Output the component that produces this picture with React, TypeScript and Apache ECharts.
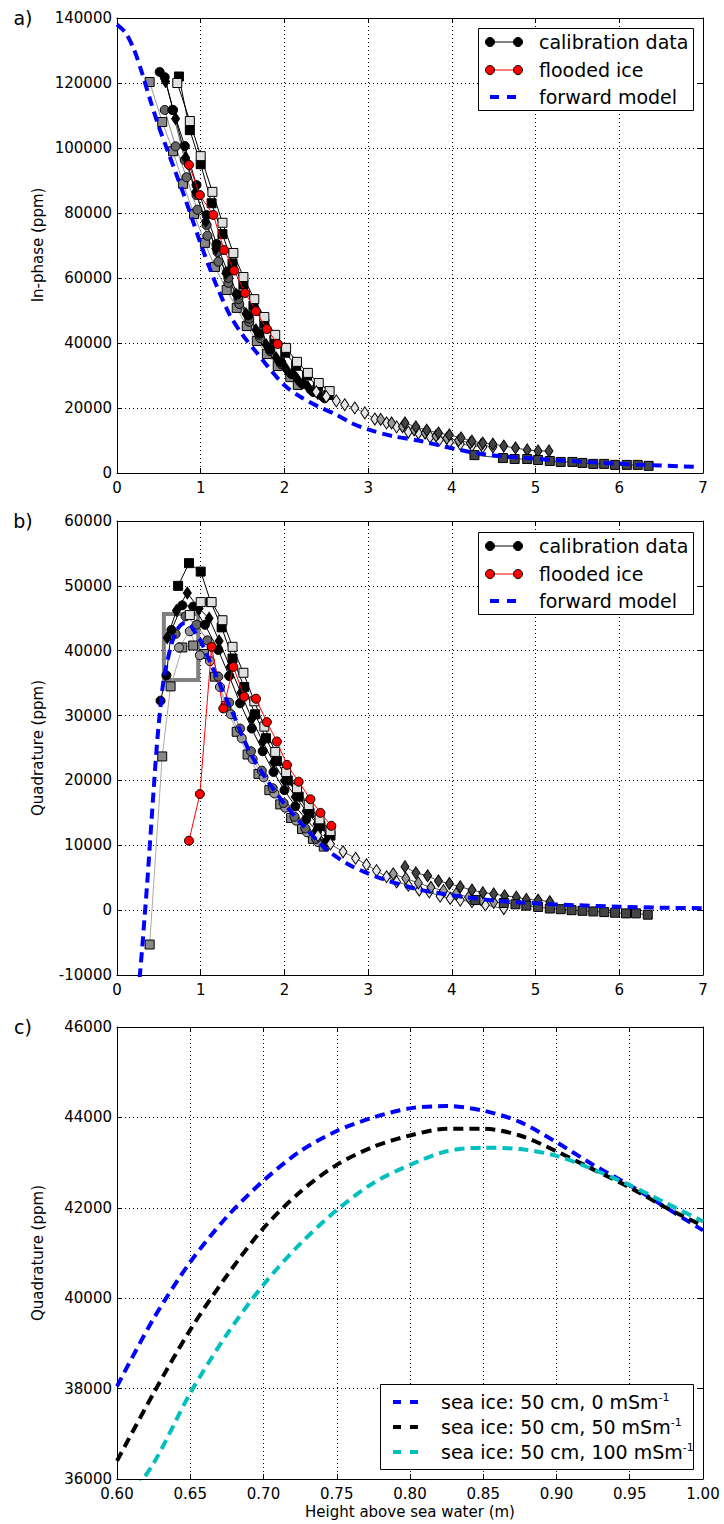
import { useEffect, useRef } from "react";
import * as echarts from "echarts";

type P = [number, number][];

// ---------- Panel a: in-phase ----------
const forwardA: P = [[0,138000],[0.1,135500],[0.2,130500],[0.3,123000],[0.4,114500],[0.5,106500],[0.6,99500],[0.7,92500],[0.8,85500],[0.9,78000],[1.0,70500],[1.1,63500],[1.2,57000],[1.35,48500],[1.5,42500],[1.67,37000],[1.8,32800],[2.0,27000],[2.2,23300],[2.4,20500],[2.6,18200],[2.8,15400],[3.0,13400],[3.3,11300],[3.6,10000],[4.0,7600],[4.4,5700],[5.0,4400],[5.6,3400],[6.2,2600],[6.9,1900]];
const lightSquareA: P = [[0.72,120000],[0.87,108300],[1.00,97500],[1.14,86500],[1.26,77000],[1.39,67700],[1.51,60300],[1.64,53500],[1.76,48000],[1.89,42500],[2.02,38500],[2.15,34200],[2.28,30800],[2.41,27700],[2.54,25200]];
const blackSquareA: P = [[0.74,122000],[0.87,105500],[1.00,95000],[1.13,83000],[1.26,73500],[1.38,64500],[1.51,58000],[1.63,51500],[1.76,46000],[1.88,41000],[2.01,37000],[2.14,33000],[2.27,30000],[2.40,26500],[2.53,24000]];
const blackCircleA: P = [[0.51,123400],[0.57,121800],[0.67,111700],[0.81,100600],[0.95,88600],[1.07,79400],[1.19,70500],[1.32,62000],[1.44,55000],[1.57,48500],[1.70,43000],[1.83,38000],[1.96,34000],[2.09,30500],[2.22,27500],[2.35,25000],[2.48,23000]];
const blackDiamondA: P = [[0.58,120500],[0.70,109000],[0.82,97000],[0.94,86500],[1.06,77500],[1.18,69000],[1.30,61500],[1.42,55000],[1.54,49000],[1.66,44000],[1.78,39500],[1.90,35500],[2.02,32000],[2.15,29000],[2.28,26500],[2.40,24500]];
const greySquareA: P = [[0.39,120300],[0.54,108000],[0.67,99000],[0.79,89000],[0.92,79700],[1.05,70800],[1.17,63400],[1.31,56300],[1.43,50800],[1.55,45200],[1.67,40600],[1.79,36600],[1.92,32900],[2.07,29500],[2.16,27100]];
const greyCircleA: P = [[0.57,111700],[0.70,100500],[0.83,91000],[0.96,81000],[1.08,73000],[1.21,65000],[1.33,58500],[1.46,52000],[1.58,46500],[1.71,41500],[1.83,37500],[1.96,33500],[2.08,30500],[2.21,27500],[2.34,25000],[2.46,23500]];
const greyCircle2A: P = [[0.66,111700],[0.81,96300],[0.95,85500],[1.07,76300],[1.20,68000],[1.33,60000],[1.45,53500],[1.58,47500],[1.70,42500],[1.83,38000],[1.96,34000],[2.09,30500],[2.22,27500],[2.35,25500],[2.47,23500]];
const lightDiamondA: P = [[2.38,25000],[2.50,23500],[2.62,22200],[2.72,21000],[2.84,20000],[2.96,18500],[3.08,16600],[3.22,15400],[3.34,14200],[3.48,12600],[3.60,12300],[3.74,11100],[3.85,10200],[3.97,9500],[4.10,8900],[4.24,8400],[4.37,8000]];
const greyDiamondA: P = [[3.15,16500],[3.28,15400],[3.41,14300],[3.55,13300],[3.68,12300],[3.81,11400],[3.94,10700],[4.08,10000],[4.22,9300],[4.35,8700],[4.49,8000]];
const darkDiamondA: P = [[3.44,15400],[3.57,14200],[3.70,13200],[3.84,12300],[3.97,11700],[4.11,10800],[4.24,9800],[4.37,9200],[4.49,8900],[4.62,8300],[4.76,7700],[4.90,7100],[5.03,6800],[5.16,6800]];
const darkSquareA: P = [[4.27,5500],[4.61,4600],[4.75,4300],[4.90,4300],[5.03,4000],[5.17,3700],[5.30,3400],[5.44,3400],[5.56,3100],[5.69,2800],[5.82,2800],[5.95,2500],[6.09,2500],[6.22,2500],[6.35,2200]];
const floodedA: P = [[0.86,94800],[0.99,85500],[1.15,79400],[1.28,68600],[1.40,62300],[1.53,55400],[1.66,49800],[1.79,44300],[1.92,39700]];

// ---------- Panel b: quadrature ----------
const forwardB: P = [[0.27,-10500],[0.30,-6000],[0.33,-1000],[0.36,4000],[0.40,11500],[0.44,19000],[0.48,26000],[0.52,31500],[0.56,35800],[0.60,38300],[0.65,41000],[0.70,42700],[0.75,43800],[0.80,44250],[0.85,44150],[0.90,43500],[0.95,42500],[1.00,41500],[1.10,38600],[1.20,35700],[1.30,32700],[1.40,29900],[1.50,26800],[1.60,24000],[1.80,19900],[2.00,16400],[2.20,13400],[2.50,9400],[2.80,6800],[3.20,4700],[3.60,3200],[4.00,2300],[4.50,1500],[5.00,1050],[5.50,750],[6.00,520],[6.50,380],[7.00,300]];
const blackSquareB: P = [[0.73,50000],[0.86,53500],[1.00,52200],[1.12,47500],[1.25,43600],[1.38,38800],[1.52,34400],[1.65,30200],[1.78,26500],[1.91,23000],[2.04,20000],[2.17,17500],[2.30,15000],[2.43,13000],[2.55,11500]];
const lightSquareB: P = [[0.87,45500],[1.00,47500],[1.13,47500],[1.26,44700],[1.38,40600],[1.51,36600],[1.64,32200],[1.76,28300],[1.89,24400],[2.02,21300],[2.15,18800],[2.29,16200],[2.42,14000],[2.55,12200]];
const blackCircleB: P = [[0.52,32300],[0.59,36200],[0.65,43200],[0.78,47000],[0.91,46800],[1.05,44000],[1.21,40100],[1.34,36100],[1.47,31900],[1.61,28000],[1.74,24500],[1.87,21300],[2.00,18500],[2.13,16000],[2.26,14000],[2.39,12200],[2.50,10500]];
const blackDiamondB: P = [[0.60,42000],[0.71,46200],[0.84,48900],[0.98,46500],[1.10,45000],[1.22,41500],[1.35,37500],[1.48,33500],[1.61,29500],[1.74,26000],[1.87,22800],[2.00,20000],[2.13,17500],[2.26,15300],[2.39,13300],[2.52,11500]];
const greyCircleB: P = [[0.70,42600],[0.82,45300],[0.95,44000],[1.08,41600],[1.21,36000],[1.34,32000],[1.47,28000],[1.60,24500],[1.73,21500],[1.86,18800],[1.99,16500],[2.12,14400],[2.25,12600],[2.38,11000],[2.50,9900]];
const greyCircle2B: P = [[0.74,40500],[0.87,43000],[0.99,39300],[1.11,38400],[1.23,34400],[1.36,30200],[1.49,26500],[1.62,23300],[1.75,20500],[1.88,18000],[2.01,15800],[2.14,13800],[2.27,12000],[2.40,10500]];
const greySquareB: P = [[0.39,-5300],[0.54,23700],[0.64,34500],[0.78,40500],[0.91,40800],[1.04,39500],[1.17,36000],[1.30,31500],[1.43,27500],[1.56,24000],[1.69,21000],[1.82,18500],[1.95,16300],[2.08,14200],[2.21,12500],[2.34,11000],[2.47,9800]];
const lightDiamondB: P = [[2.40,11500],[2.55,10200],[2.70,9000],[2.85,8000],[2.98,7000],[3.10,6100],[3.22,5150],[3.34,4350],[3.48,3850],[3.61,3100],[3.73,2800],[3.86,2150],[3.98,1800],[4.10,1550],[4.24,1300],[4.40,800],[4.62,250]];
const greyDiamondB: P = [[3.30,5600],[3.45,4900],[3.60,4200],[3.75,3500],[3.90,3000],[4.05,2500],[4.20,2000],[4.35,1600],[4.50,1200]];
const darkDiamondB: P = [[3.44,6700],[3.57,5750],[3.71,5300],[3.84,4500],[3.97,4100],[4.10,3600],[4.24,3100],[4.37,2700],[4.50,2500],[4.63,2200],[4.77,2000],[4.89,1650],[5.03,1550],[5.17,1300]];
const darkSquareB: P = [[4.28,1550],[4.62,1100],[4.76,900],[4.89,700],[5.03,500],[5.17,250],[5.30,150],[5.43,0],[5.56,-100],[5.69,-200],[5.82,-300],[5.95,-400],[6.08,-500],[6.20,-500],[6.34,-700]];
const floodedB: P = [[0.86,10700],[0.99,17900],[1.13,40600],[1.27,31100],[1.39,37500],[1.52,32900],[1.66,32600],[1.79,29000],[1.91,26000],[2.03,22400],[2.17,19800],[2.31,17100],[2.43,15000],[2.56,13000]];
const zoomBox: [[number, number], [number, number]] = [[0.56, 45650], [0.97, 35500]];

// ---------- Panel c: zoom of forward models ----------
const heightsC = [0.600,0.625,0.650,0.675,0.700,0.725,0.750,0.775,0.800,0.825,0.850,0.875,0.900,0.925,0.950,0.975,1.000];
const ice0 = [38050,39550,40800,41800,42600,43250,43700,44000,44200,44250,44150,43900,43450,42950,42500,42000,41500];
const ice50 = [36400,37900,39300,40500,41550,42350,42950,43350,43600,43750,43750,43600,43250,42850,42450,42000,41600];
const ice100 = [35200,36350,37900,39200,40300,41200,41950,42550,42950,43250,43330,43300,43150,42850,42500,42100,41700];

// ---------- ticks ----------
const xTicksAB = [0, 7, 1];
const yTicksA = [0, 140000, 20000];
const yTicksB = [-10000, 60000, 10000];
const xTicksC = [0.6, 1.0, 0.05];
const yTicksC = [36000, 46000, 2000];

const FONT = "DejaVu Sans";
const BLUE = "#0000ff";
const CYAN = "#00bfbf";

function cal(data: P, gi: number, symbol: string, fill: string, line: string, size: any = 9, extra: any = {}) {
  return {
    type: "line", xAxisIndex: gi, yAxisIndex: gi, data,
    symbol, symbolSize: size, showSymbol: true, showAllSymbol: true,
    lineStyle: { color: line, width: 1 },
    itemStyle: { color: fill, borderColor: "#000", borderWidth: 1 },
    emphasis: { disabled: true }, silent: true, z: 2, ...extra,
  };
}
function dashLine(data: any[], gi: number, color: string, z = 5) {
  return {
    type: "line", xAxisIndex: gi, yAxisIndex: gi, data, showSymbol: false, symbol: "none",
    smooth: 0.3,
    lineStyle: { color, width: 4, type: [10, 6] },
    emphasis: { disabled: true }, silent: true, z,
  };
}

const DIA = [8, 12];

export default function App() {
  const ref = useRef<HTMLDivElement>(null);
  useEffect(() => {
    if (!ref.current) return;
    const chart = echarts.init(ref.current, undefined, { renderer: "svg" });
    const grids = [
      { left: 117, top: 18, width: 586, height: 455 },
      { left: 117, top: 521, width: 586, height: 454 },
      { left: 117, top: 1027, width: 586, height: 452 },
    ];
    const xr = [xTicksAB, xTicksAB, xTicksC];
    const yr = [yTicksA, yTicksB, yTicksC];
    const xAxes: any[] = [];
    const yAxes: any[] = [];
    const axisLine = { show: true, onZero: false, lineStyle: { color: "#000", width: 1 } };
    const axisTick = { show: true, inside: true, length: 5, lineStyle: { color: "#000", width: 1 } };
    const split = { show: true, lineStyle: { color: "#000", width: 1, type: [1, 3] } };
    for (let gi = 0; gi < 3; gi++) {
      const [xmin, xmax, xint] = xr[gi];
      xAxes.push({
        type: "value", gridIndex: gi, position: "bottom", min: xmin, max: xmax, interval: xint,
        axisLine, axisTick, splitLine: split,
        axisLabel: {
          color: "#000", fontSize: 15, fontFamily: FONT, margin: 7, showMinLabel: true, showMaxLabel: true,
          formatter: (v: number) => (gi === 2 ? v.toFixed(2) : String(Math.round(v))),
        },
      });
      const [ymin, ymax, yint] = yr[gi];
      yAxes.push({
        type: "value", gridIndex: gi, position: "left", min: ymin, max: ymax, interval: yint,
        axisLine, axisTick, splitLine: split,
        axisLabel: {
          color: "#000", fontSize: 15, fontFamily: FONT, margin: 5, showMinLabel: true, showMaxLabel: true,
          formatter: (v: number) => String(Math.round(v)),
        },
      });
    }
    for (let gi = 0; gi < 3; gi++) {
      const [xmin, xmax, xint] = xr[gi];
      xAxes.push({
        type: "value", gridIndex: gi, position: "top", min: xmin, max: xmax, interval: xint,
        axisLine, axisTick, splitLine: { show: false }, axisLabel: { show: false },
      });
      const [ymin, ymax, yint] = yr[gi];
      yAxes.push({
        type: "value", gridIndex: gi, position: "right", min: ymin, max: ymax, interval: yint,
        axisLine, axisTick, splitLine: { show: false }, axisLabel: { show: false },
      });
    }

    const series: any[] = [
      // panel a
      cal(greySquareA, 0, "rect", "#888888", "#999999"),
      cal(greyCircleA, 0, "circle", "#666666", "#888888"),
      cal(greyCircle2A, 0, "circle", "#555555", "#666666"),
      cal(blackDiamondA, 0, "diamond", "#000000", "#000000", DIA),
      cal(blackCircleA, 0, "circle", "#000000", "#000000"),
      cal(blackSquareA, 0, "rect", "#000000", "#000000"),
      cal(lightSquareA, 0, "rect", "#e0e0e0", "#000000"),
      cal(lightDiamondA, 0, "diamond", "#e6e6e6", "#555555", DIA),
      cal(greyDiamondA, 0, "diamond", "#999999", "#555555", DIA),
      cal(darkDiamondA, 0, "diamond", "#444444", "#444444", DIA),
      cal(darkSquareA, 0, "rect", "#444444", "#444444"),
      cal(floodedA, 0, "circle", "#ff0000", "#ff0000", 9, { z: 3 }),
      dashLine(forwardA, 0, BLUE),
      // panel b
      cal(greySquareB, 1, "rect", "#888888", "#aaaaaa", 9, {
        markArea: {
          silent: true,
          itemStyle: { color: "rgba(0,0,0,0)", borderColor: "#808080", borderWidth: 4 },
          data: [[{ coord: zoomBox[0] }, { coord: zoomBox[1] }]],
        },
      }),
      cal(greyCircle2B, 1, "circle", "#999999", "#aaaaaa"),
      cal(greyCircleB, 1, "circle", "#666666", "#777777"),
      cal(blackDiamondB, 1, "diamond", "#000000", "#000000", DIA),
      cal(blackCircleB, 1, "circle", "#000000", "#000000"),
      cal(blackSquareB, 1, "rect", "#000000", "#000000"),
      cal(lightSquareB, 1, "rect", "#e0e0e0", "#000000"),
      cal(lightDiamondB, 1, "diamond", "#e6e6e6", "#555555", DIA),
      cal(greyDiamondB, 1, "diamond", "#999999", "#555555", DIA),
      cal(darkDiamondB, 1, "diamond", "#444444", "#444444", DIA),
      cal(darkSquareB, 1, "rect", "#444444", "#444444"),
      cal(floodedB, 1, "circle", "#ff0000", "#ff0000", 9, { z: 3 }),
      dashLine(forwardB, 1, BLUE),
      // panel c
      dashLine(heightsC.map((h, i) => [h, ice0[i]]), 2, BLUE),
      dashLine(heightsC.map((h, i) => [h, ice50[i]]), 2, "#000000"),
      dashLine(heightsC.map((h, i) => [h, ice100[i]]), 2, CYAN),
    ];

    const legendAB = (dy: number) => {
      const rows = [42, 70, 97].map((y) => y + dy);
      return [
        { type: "rect", shape: { x: 478.5, y: 28.5 + dy, width: 215, height: 82 }, style: { fill: "#fff", stroke: "#000", lineWidth: 1 }, z: 100 },
        { type: "line", shape: { x1: 490, y1: rows[0], x2: 518, y2: rows[0] }, style: { stroke: "#000", lineWidth: 1 }, z: 101 },
        { type: "circle", shape: { cx: 490, cy: rows[0], r: 4.5 }, style: { fill: "#000", stroke: "#000" }, z: 102 },
        { type: "circle", shape: { cx: 518, cy: rows[0], r: 4.5 }, style: { fill: "#000", stroke: "#000" }, z: 102 },
        { type: "text", x: 539, y: rows[0], style: { text: "calibration data", fontSize: 19, fontFamily: FONT, fill: "#000", verticalAlign: "middle" }, z: 101 },
        { type: "line", shape: { x1: 490, y1: rows[1], x2: 518, y2: rows[1] }, style: { stroke: "#ff0000", lineWidth: 1 }, z: 101 },
        { type: "circle", shape: { cx: 490, cy: rows[1], r: 4.5 }, style: { fill: "#ff0000", stroke: "#000" }, z: 102 },
        { type: "circle", shape: { cx: 518, cy: rows[1], r: 4.5 }, style: { fill: "#ff0000", stroke: "#000" }, z: 102 },
        { type: "text", x: 539, y: rows[1], style: { text: "flooded ice", fontSize: 19, fontFamily: FONT, fill: "#000", verticalAlign: "middle" }, z: 101 },
        { type: "line", shape: { x1: 490, y1: rows[2], x2: 517, y2: rows[2] }, style: { stroke: BLUE, lineWidth: 4, lineDash: [9, 8] }, z: 101 },
        { type: "text", x: 539, y: rows[2], style: { text: "forward model", fontSize: 19, fontFamily: FONT, fill: "#000", verticalAlign: "middle" }, z: 101 },
      ];
    };
    const legendC = () => {
      const rows = [1402, 1427, 1452];
      const labels = ["sea ice: 50 cm, 0 mSm{s|-1}", "sea ice: 50 cm, 50 mSm{s|-1}", "sea ice: 50 cm, 100 mSm{s|-1}"];
      const cols = [BLUE, "#000000", CYAN];
      const els: any[] = [
        { type: "rect", shape: { x: 380.5, y: 1384.5, width: 313, height: 85 }, style: { fill: "#fff", stroke: "#000", lineWidth: 1 }, z: 100 },
      ];
      rows.forEach((y, i) => {
        els.push({ type: "line", shape: { x1: 393, y1: y, x2: 418, y2: y }, style: { stroke: cols[i], lineWidth: 4, lineDash: [8, 9] }, z: 101 });
        els.push({
          type: "text", x: 441, y, z: 101,
          style: {
            text: labels[i], fontSize: 19, fontFamily: FONT, fill: "#000", verticalAlign: "middle",
            rich: { s: { fontSize: 11, fontFamily: FONT, fill: "#000", verticalAlign: "top", padding: [0, 0, 10, 0] } },
          },
        });
      });
      return els;
    };

    const textEl = (x: number, y: number, text: string, size: number, extra: any = {}) => ({
      type: "text", x, y, z: 50,
      style: { text, fontSize: size, fontFamily: FONT, fill: "#000", align: "center", verticalAlign: "middle" },
      ...extra,
    });

    const graphic: any[] = [
      textEl(23, 18, "a)", 19),
      textEl(23, 521, "b)", 19),
      textEl(23, 1027, "c)", 19),
      textEl(38, 245, "In-phase (ppm)", 15, { rotation: Math.PI / 2 }),
      textEl(38, 748, "Quadrature (ppm)", 15, { rotation: Math.PI / 2 }),
      textEl(38, 1253, "Quadrature (ppm)", 15, { rotation: Math.PI / 2 }),
      textEl(410, 1512, "Height above sea water (m)", 15),
      ...legendAB(0),
      ...legendAB(504),
      ...legendC(),
    ];

    chart.setOption({
      animation: false,
      backgroundColor: "#fff",
      textStyle: { fontFamily: FONT },
      grid: grids,
      xAxis: xAxes,
      yAxis: yAxes,
      series,
      graphic,
    });
    return () => chart.dispose();
  }, []);
  return <div ref={ref} style={{ position: "fixed", left: 0, top: 0, width: 724, height: 1524 }} />;
}
